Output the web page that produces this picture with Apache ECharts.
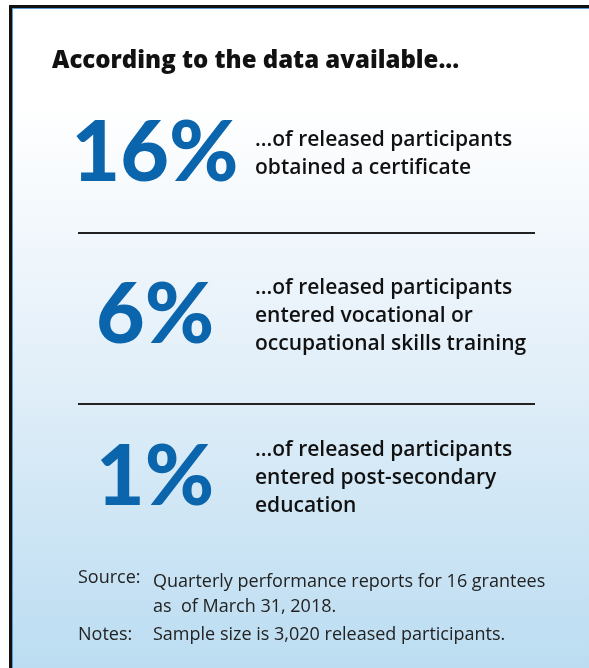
<!DOCTYPE html>
<html>
<head>
<meta charset="utf-8">
<script src="https://cdn.jsdelivr.net/npm/echarts@6/dist/echarts.min.js"></script>
<style>
  html, body { margin: 0; padding: 0; background: #fff; }
  #chart { width: 589px; height: 668px; }
</style>
</head>
<body>
<div id="chart"></div>
<script>
// stats shown in the panel
const shares = [16, 6, 1]
const rows = ['certificate', 'vocational', 'postsecondary']
const descriptions = [
  '...of released participants\nobtained a certificate',
  '...of released participants\nentered vocational or\noccupational skills training',
  '...of released participants\nentered post-secondary\neducation'
]
const heading = 'According to the data available...'
const sourceText = 'Quarterly performance reports for 16 grantees\nas  of March 31, 2018.'
const notesText = 'Sample size is 3,020 released participants.'

const chart = echarts.init(document.getElementById('chart'))

const NUM_X = 155
const DESC_X = 255

const option = {
  backgroundColor: '#ffffff',
  animation: false,
  grid: { left: 0, right: 0, top: 73, height: 486 },
  xAxis: { type: 'value', min: 0, max: 589, show: false },
  yAxis: { type: 'category', data: rows, inverse: true, show: false },
  graphic: [
    {
      type: 'rect', z: -10,
      shape: { x: 12, y: 8, width: 600, height: 700 },
      style: {
        fill: new echarts.graphic.LinearGradient(0, 0, 0, 1, [
          { offset: 0, color: '#ffffff' },
          { offset: 0.14, color: '#ffffff' },
          { offset: 0.45, color: '#e8f2fa' },
          { offset: 1, color: '#b6daf0' }
        ]),
        stroke: '#5b9bd5', lineWidth: 2
      }
    },
    {
      type: 'rect', z: -9,
      shape: { x: 10.5, y: 6.5, width: 600, height: 700 },
      style: { fill: 'none', stroke: '#111', lineWidth: 3 }
    },
    {
      type: 'text', left: 52, top: 49,
      style: { text: heading, font: '800 24px "Open Sans"', fill: '#111' }
    },
    { type: 'line', shape: { x1: 78, y1: 233, x2: 535, y2: 233 }, style: { stroke: '#222', lineWidth: 2 } },
    { type: 'line', shape: { x1: 78, y1: 404, x2: 535, y2: 404 }, style: { stroke: '#222', lineWidth: 2 } },
    {
      type: 'text', left: 78, top: 569,
      style: { text: 'Source:', font: '400 18px "Open Sans"', fill: '#222' }
    },
    {
      type: 'text', left: 153, top: 569,
      style: { text: sourceText, font: '400 18px "Open Sans"', fill: '#222', lineHeight: 25 }
    },
    {
      type: 'text', left: 78, top: 626,
      style: { text: 'Notes:', font: '400 18px "Open Sans"', fill: '#222' }
    },
    {
      type: 'text', left: 153, top: 626,
      style: { text: notesText, font: '400 18px "Open Sans"', fill: '#222' }
    }
  ],
  series: [
    {
      type: 'scatter',
      symbolSize: 0,
      itemStyle: { opacity: 1 },
      data: shares.map((v, i) => [NUM_X, rows[i], v]),
      label: {
        show: true, position: 'inside',
        formatter: p => p.data[2] + '%',
        fontFamily: 'Lato', fontWeight: 900, fontSize: 84, color: '#0b65ad'
      }
    },
    {
      type: 'scatter',
      symbolSize: 0,
      itemStyle: { opacity: 1 },
      data: descriptions.map((d, i) => [DESC_X, rows[i], d]),
      label: {
        show: true, position: 'right', distance: 0,
        formatter: p => p.data[2],
        fontFamily: 'Open Sans', fontWeight: 600, fontSize: 21, lineHeight: 28, color: '#111'
      }
    }
  ]
}

chart.setOption(option)
</script>
</body>
</html>
